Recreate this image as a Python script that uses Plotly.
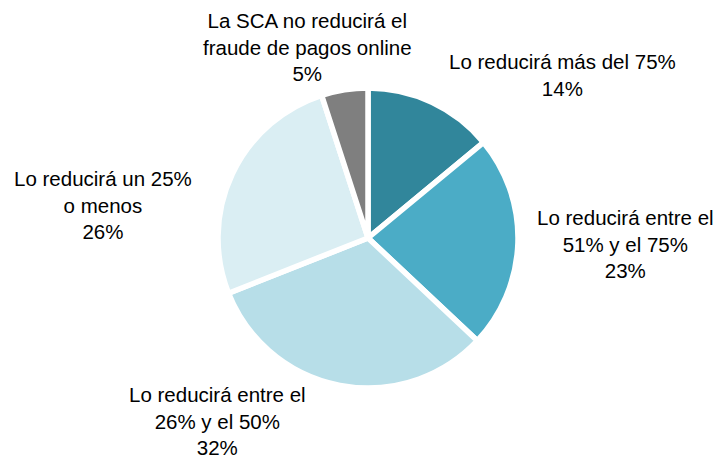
import plotly.graph_objects as go

categories = [
    "Lo reducirá más del 75%",
    "Lo reducirá entre el 51% y el 75%",
    "Lo reducirá entre el 26% y el 50%",
    "Lo reducirá un 25% o menos",
    "La SCA no reducirá el fraude de pagos online",
]
values = [14, 23, 32, 26, 5]
label_lines = [
    "Lo reducirá más del 75%",
    "Lo reducirá entre el<br>51% y el 75%",
    "Lo reducirá entre el<br>26% y el 50%",
    "Lo reducirá un 25%<br>o menos",
    "La SCA no reducirá el<br>fraude de pagos online",
]
colors = ["#31869B", "#4BACC6", "#B7DEE8", "#DAEEF3", "#7F7F7F"]

W, H = 717, 460
fig = go.Figure(go.Pie(
    labels=categories,
    values=values,
    sort=False,
    direction="clockwise",
    rotation=0,
    marker=dict(colors=colors, line=dict(color="white", width=5.5)),
    textinfo="none",
    hoverinfo="label+percent",
    showlegend=False,
    domain=dict(x=[218 / W, 518 / W], y=[1 - 388 / H, 1 - 88 / H]),
))

# label centre positions (pixels)
label_pos = [(562, 75), (625, 244), (217, 421), (103, 205), (307, 47)]
for lbl, v, (px, py) in zip(label_lines, values, label_pos):
    fig.add_annotation(
        x=px / W, y=1 - py / H, xref="paper", yref="paper",
        text=f"{lbl}<br>{v}%", showarrow=False,
        xanchor="center", yanchor="middle", align="center",
        font=dict(family="Liberation Sans, Arial, sans-serif", size=20.5, color="#000000"),
    )

fig.update_layout(
    width=W, height=H,
    margin=dict(l=0, r=0, t=0, b=0),
    paper_bgcolor="white", plot_bgcolor="white",
)
fig.write_html("out.html", post_script="document.body.style.margin='0';",
               config={"displayModeBar": False})
